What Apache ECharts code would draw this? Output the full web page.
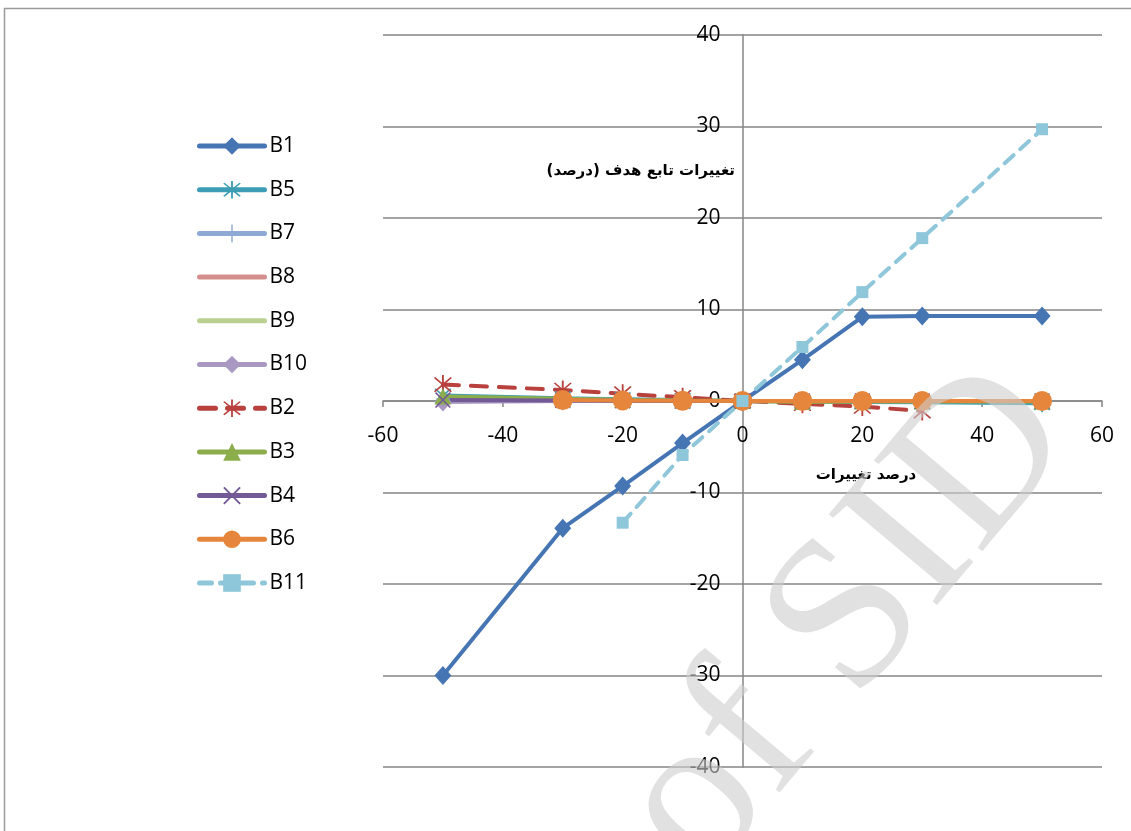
<!DOCTYPE html>
<html>
<head>
<meta charset="utf-8">
<script src="https://cdn.jsdelivr.net/npm/echarts@6/dist/echarts.min.js"></script>
<style>
  html, body { margin: 0; padding: 0; background: #ffffff; }
  #chart { width: 1131px; height: 831px; }
</style>
</head>
<body>
<div id="chart"></div>
<script>
// Percent change of each parameter (x) and resulting change of the objective (y)
const xAll  = [-50, -30, -20, -10, 0, 10, 20, 30, 50];
const xB2   = [-50, -30, -20, -10, 0, 10, 20, 30];
const xB6   = [-30, -20, -10, 0, 10, 20, 30, 50];
const xB11  = [-20, -10, 0, 10, 20, 30, 50];

const B1  = [-30, -13.9, -9.3, -4.6, 0, 4.5, 9.2, 9.3, 9.3];
const B5  = [0.6, 0.3, 0.2, 0.1, 0, -0.05, -0.1, -0.15, -0.25];
const B7  = [0.2, 0.1, 0.05, 0.02, 0, 0, 0, 0, 0];
const B8  = [0, 0, 0, 0, 0, 0, 0, 0, 0];
const B9  = [0.3, 0.15, 0.1, 0.05, 0, 0, 0, 0, 0];
const B10 = [-0.1, 0, 0, 0, 0, 0, 0, 0, 0];
const B2  = [1.8, 1.2, 0.8, 0.4, 0, -0.3, -0.6, -1.1];
const B3  = [0.5, 0.25, 0.15, 0.05, 0, -0.1, -0.05, -0.05, -0.05];
const B4  = [0.1, 0.05, 0.03, 0.01, 0, 0, 0, 0, 0];
const B6  = [0.1, 0.05, 0.02, 0, 0, 0, 0, 0];
const B11 = [-13.3, -5.9, 0, 5.9, 11.9, 17.8, 29.7];

const xTicks = [-60, -40, -20, 0, 20, 40, 60];
const yTicks = [-40, -30, -20, -10, 0, 10, 20, 30, 40];

const xTitle = 'درصد تغییرات';
const yTitle = 'تغییرات تابع هدف (درصد)\u200F';

// marker shapes drawn as filled outlines
const STAR  = 'path://M9.2 0 L10.8 0 L10.8 20 L9.2 20 Z M2.2 3 L3.4 2 L17.8 17 L16.6 18 Z M16.6 2 L17.8 3 L3.4 18 L2.2 17 Z';
const CROSS = 'path://M2.2 3 L3.4 2 L17.8 17 L16.6 18 Z M16.6 2 L17.8 3 L3.4 18 L2.2 17 Z';
const PLUS  = 'path://M9.2 0 L10.8 0 L10.8 20 L9.2 20 Z M0 9.2 L20 9.2 L20 10.8 L0 10.8 Z';

function pairs(xs, ys) { return xs.map((x, i) => [x, ys[i]]); }

function line(name, xs, ys, color, symbol, size, dash) {
  return {
    name: name,
    type: 'line',
    data: pairs(xs, ys),
    symbol: symbol,
    symbolSize: size,
    showAllSymbol: true,
    animation: false,
    lineStyle: { color: color, width: 4, type: dash || 'solid', cap: dash ? 'round' : 'butt' },
    itemStyle: { color: color, borderWidth: 0 },
    emphasis: { disabled: true }
  };
}

const series = [
  line('B1',  xAll, B1,  '#4675B4', 'diamond', [17, 19]),
  line('B5',  xAll, B5,  '#3D9DB5', STAR, [17, 18]),
  line('B7',  xAll, B7,  '#8DA9D4', PLUS, [14, 15]),
  line('B8',  xAll, B8,  '#D48F8C', 'none', 0),
  line('B9',  xAll, B9,  '#B9D190', 'none', 0),
  line('B10', xAll, B10, '#A898C2', 'diamond', [17, 19]),
  line('B2',  xB2,  B2,  '#B8403D', STAR, [18, 19], [16, 12]),
  line('B3',  xAll, B3,  '#8BAD4B', 'triangle', [17, 16]),
  line('B4',  xAll, B4,  '#735995', CROSS, [16, 16]),
  line('B6',  xB6,  B6,  '#E5863C', 'circle', 20),
  line('B11', xB11, B11, '#8EC6DA', 'rect', [12, 12], [12, 9])
];

// legend entries: thick rounded strokes, no marker for the plain lines
const legendData = series.map(s => {
  const item = {
    name: s.name,
    lineStyle: { width: 5, cap: 'round' }
  };
  if (s.symbol === 'none') item.itemStyle = { color: 'rgba(0,0,0,0)', borderWidth: 0 };
  return item;
});

const GRID = { left: 383, right: 29, top: 35, bottom: 64 };

const chart = echarts.init(document.getElementById('chart'), null, { renderer: 'canvas' });

function buildOption(xOffset, yOffset) {
  return {
    backgroundColor: '#ffffff',
    animation: false,
    textStyle: { fontFamily: 'Open Sans' },
    grid: { left: GRID.left, right: GRID.right, top: GRID.top, bottom: GRID.bottom, containLabel: false },
    legend: {
      orient: 'vertical',
      left: 197,
      top: 135,
      padding: 0,
      itemWidth: 65,
      itemHeight: 22,
      itemGap: 21.7,
      data: legendData,
      selectedMode: false,
      textStyle: { fontSize: 21, color: '#000000', fontFamily: 'Open Sans', lineHeight: 22 }
    },
    xAxis: {
      type: 'value',
      min: xTicks[0],
      max: xTicks[xTicks.length - 1],
      interval: 20,
      offset: xOffset,
      axisLine: { onZero: false, lineStyle: { color: '#868686', width: 1.5 } },
      axisTick: { show: true, length: 6, lineStyle: { color: '#868686', width: 1.5 } },
      splitLine: { show: false },
      axisLabel: { fontSize: 21, color: '#000000', margin: 25, fontFamily: 'Open Sans' }
    },
    yAxis: {
      type: 'value',
      min: yTicks[0],
      max: yTicks[yTicks.length - 1],
      interval: 10,
      offset: yOffset,
      axisLine: { onZero: false, lineStyle: { color: '#868686', width: 1.5 } },
      axisTick: { show: false },
      splitLine: { show: true, lineStyle: { color: '#868686', width: 1.5 } },
      axisLabel: { fontSize: 21, color: '#000000', margin: 22, fontFamily: 'Open Sans' }
    },
    graphic: [
      {
        type: 'rect', silent: true, z: 0,
        shape: { x: 4.5, y: 8.5, width: 1300, height: 1000 },
        style: { fill: null, stroke: '#9a9a9a', lineWidth: 1.5 }
      },
      {
        type: 'text', silent: true, z: 10,
        x: 735, y: 171,
        style: {
          text: yTitle, fill: '#000000',
          font: 'bold 15px "DejaVu Sans"',
          textAlign: 'right', textVerticalAlign: 'middle'
        }
      },
      {
        type: 'text', silent: true, z: 10,
        x: 866, y: 475,
        style: {
          text: xTitle, fill: '#000000',
          font: 'bold 15px "DejaVu Sans"',
          textAlign: 'center', textVerticalAlign: 'middle'
        }
      },
      {
        type: 'text', silent: true, z: 100,
        x: 1035, y: 400,
        rotation: 50 * Math.PI / 180,
        style: {
          text: 'Archive of SID', fill: 'rgba(205,205,205,0.6)',
          font: '216px "Liberation Serif"',
          textAlign: 'right', textVerticalAlign: 'middle'
        }
      }
    ],
    series: series
  };
}

// first pass places the grid; the axes are then shifted so they cross at the origin
chart.setOption(buildOption(0, 0));
const origin = chart.convertToPixel({ gridIndex: 0 }, [0, 0]);
const gridBottom = 831 - GRID.bottom;
chart.setOption(buildOption(-(gridBottom - origin[1]), -(origin[0] - GRID.left)));
</script>
</body>
</html>
